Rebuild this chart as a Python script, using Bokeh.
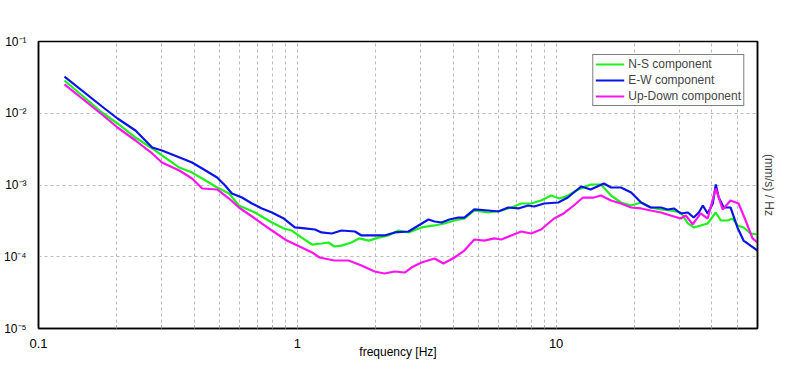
from bokeh.plotting import figure
from bokeh.models import Range1d, FixedTicker, CustomJSTickFormatter, LogAxis
from bokeh.embed import file_html
from bokeh.resources import INLINE

# ---- data ----
ew_freq = [0.126, 0.176, 0.202, 0.237, 0.275, 0.300, 0.359, 0.392, 0.429, 0.490, 0.526, 0.559,
           0.611, 0.668, 0.730, 0.798, 0.887, 0.978, 1.07, 1.17, 1.24, 1.36, 1.48, 1.67, 1.77,
           1.94, 2.17, 2.38, 2.69, 2.94, 3.21, 3.39, 3.61, 3.87, 4.19, 4.42, 4.83, 5.47, 5.98,
           6.53, 7.14, 7.80, 8.23, 8.99, 10.2, 11.1, 11.7, 12.5, 13.6, 15.3, 16.3, 17.8, 19.5,
           21.3, 23.2, 25.4, 27.0, 28.5, 30.3, 32.3, 34.0, 35.6, 36.9, 38.5, 40.3, 41.4, 42.5,
           44.4, 47.2, 50.2, 53.0, 56.4, 60.0]
ew_vals = [0.0325, 0.01242, 0.00845, 0.00575, 0.00333, 0.00303, 0.00234, 0.00206, 0.00170,
           0.00127, 0.000984, 0.000761, 0.000669, 0.000552, 0.000471, 0.000414, 0.000341,
           0.000256, 0.000248, 0.000240, 0.000218, 0.000211, 0.000232, 0.000225, 0.000198,
           0.000198, 0.000198, 0.000218, 0.000225, 0.000273, 0.000330, 0.000310, 0.000300,
           0.000330, 0.000352, 0.000352, 0.000456, 0.000441, 0.000427, 0.000486, 0.000471,
           0.000518, 0.000502, 0.000552, 0.000570, 0.000669, 0.000786, 0.000953, 0.000866,
           0.00105, 0.000923, 0.000923, 0.000786, 0.000570, 0.000486, 0.000486, 0.000456,
           0.000471, 0.000401, 0.000414, 0.000352, 0.000414, 0.000518, 0.000401, 0.000552,
           0.001016, 0.000669, 0.000486, 0.000486, 0.000256, 0.000168, 0.000143, 0.000122]

ns_freq = [0.126, 0.176, 0.202, 0.237, 0.275, 0.300, 0.350, 0.392, 0.429, 0.490, 0.545, 0.595,
           0.686, 0.798, 0.887, 0.952, 1.04, 1.14, 1.24, 1.32, 1.39, 1.48, 1.62, 1.73, 1.89,
           2.06, 2.25, 2.46, 2.69, 3.02, 3.39, 3.70, 4.05, 4.42, 4.83, 5.47, 6.14, 6.71, 7.33,
           8.01, 8.75, 9.56, 10.3, 11.1, 12.2, 13.6, 14.9, 16.3, 17.8, 19.5, 21.3, 23.2, 25.4,
           27.7, 30.3, 32.3, 34.0, 36.2, 38.5, 41.4, 43.3, 46.0, 48.1, 50.2, 53.0, 56.4, 60.0]
ns_vals = [0.0286, 0.01024, 0.00720, 0.00459, 0.00323, 0.00258, 0.00175, 0.00149, 0.00123,
           0.000923, 0.000761, 0.000518, 0.000414, 0.000300, 0.000248, 0.000232, 0.000185,
           0.000148, 0.000153, 0.000158, 0.000139, 0.000143, 0.000158, 0.000180, 0.000168,
           0.000185, 0.000198, 0.000232, 0.000218, 0.000256, 0.000273, 0.000291, 0.000320,
           0.000341, 0.000441, 0.000414, 0.000441, 0.000486, 0.000552, 0.000552, 0.000608,
           0.000714, 0.000648, 0.000714, 0.000866, 0.001016, 0.001016, 0.000714, 0.000570,
           0.000518, 0.000570, 0.000486, 0.000456, 0.000441, 0.000414, 0.000291, 0.000256,
           0.000273, 0.000291, 0.000414, 0.000320, 0.000320, 0.000341, 0.000273, 0.000256,
           0.000211, 0.000204]

ud_freq = [0.126, 0.176, 0.202, 0.237, 0.275, 0.300, 0.350, 0.392, 0.429, 0.490, 0.545, 0.595,
           0.686, 0.798, 0.911, 1.04, 1.14, 1.22, 1.39, 1.58, 1.77, 1.99, 2.17, 2.38, 2.60,
           2.76, 3.02, 3.39, 3.67, 4.05, 4.42, 4.83, 5.28, 5.77, 6.14, 6.71, 7.33, 8.01, 8.75,
           9.82, 10.7, 11.7, 12.7, 14.0, 14.9, 16.3, 17.8, 19.5, 21.3, 23.2, 25.4, 27.7, 30.3,
           31.7, 33.7, 36.2, 38.5, 41.4, 44.0, 47.2, 50.7, 54.0, 57.4, 60.0]
ud_vals = [0.0252, 0.00961, 0.00633, 0.00417, 0.00275, 0.00206, 0.00159, 0.00123, 0.000894,
           0.000866, 0.000648, 0.000486, 0.000341, 0.000232, 0.000168, 0.000135, 0.000115,
           0.0000976, 0.0000887, 0.0000887, 0.0000755, 0.0000623, 0.0000584, 0.0000623,
           0.0000603, 0.0000708, 0.0000832, 0.0000945, 0.0000806, 0.0000976, 0.000122,
           0.000174, 0.000168, 0.000180, 0.000174, 0.000198, 0.000225, 0.000211, 0.000240,
           0.000341, 0.000401, 0.000518, 0.000669, 0.000669, 0.000714, 0.000608, 0.000552,
           0.000486, 0.000471, 0.000441, 0.000414, 0.000376, 0.000341, 0.000376, 0.000282,
           0.000401, 0.000341, 0.000894, 0.000456, 0.000608, 0.000552, 0.000320, 0.000180,
           0.000158]

x_major = [0.1, 1, 10]
x_minor = [0.2, 0.3, 0.4, 0.5, 0.6, 0.7, 0.8, 0.9, 2, 3, 4, 5, 6, 7, 8, 9, 20, 30, 40, 50]
y_major = [1e-5, 1e-4, 1e-3, 1e-2, 1e-1]

series = [
    ("N-S component", ns_freq, ns_vals, "#1ef01e"),
    ("E-W component", ew_freq, ew_vals, "#0a14e6"),
    ("Up-Down component", ud_freq, ud_vals, "#ff14f0"),
]

FONT = "Liberation Sans"

p = figure(width=796, height=370, x_axis_type="log", y_axis_type="log",
           x_range=Range1d(0.1, 60), y_range=Range1d(1e-5, 1e-1),
           output_backend="svg", toolbar_location=None,
           min_border_left=33, min_border_right=39, min_border_top=41, min_border_bottom=42)
p.background_fill_color = "white"
p.border_fill_color = "white"
p.outline_line_color = "black"
p.outline_line_width = 1.5

for name, fx, fy, col in series:
    p.line(fx, fy, line_color=col, line_width=2.2, legend_label=name)

xt = FixedTicker(ticks=x_major, minor_ticks=x_minor)
yt = FixedTicker(ticks=y_major, minor_ticks=[])
p.xaxis.ticker = xt
p.xgrid.ticker = xt
p.yaxis.ticker = yt
p.ygrid.ticker = yt

p.xaxis.formatter = CustomJSTickFormatter(code="return tick >= 1 ? tick.toFixed(0) : tick.toFixed(1);")
p.yaxis.formatter = CustomJSTickFormatter(code="""
const e = Math.round(Math.log10(tick));
const sup = {'-':'\u207b','0':'\u2070','1':'\u00b9','2':'\u00b2','3':'\u00b3','4':'\u2074','5':'\u2075'};
return '10' + String(e).split('').map(c => sup[c]).join('');
""")

for g in (p.xgrid, p.ygrid):
    g.grid_line_color = "#bbbbbb"
    g.grid_line_dash = "3 3"
    g.grid_line_width = 1
p.xgrid.minor_grid_line_color = "#bbbbbb"
p.xgrid.minor_grid_line_dash = "3 3"

for ax in (p.xaxis, p.yaxis):
    ax.axis_line_color = "black"
    ax.axis_line_width = 1.5
    ax.major_label_text_font = FONT
    ax.major_label_text_font_size = "13px"
    ax.major_label_text_color = "black"
    ax.axis_label_text_font = FONT
    ax.axis_label_text_font_size = "12px"
    ax.axis_label_text_font_style = "normal"
    ax.axis_label_text_color = "black"

p.yaxis.major_label_text_font_size = "12px"

p.xaxis.major_tick_in = 3
p.xaxis.major_tick_out = 0
p.xaxis.minor_tick_in = 3
p.xaxis.minor_tick_out = 0
p.xaxis.major_tick_line_color = "#999999"
p.xaxis.minor_tick_line_color = "#999999"
p.xaxis.major_label_standoff = 10
p.xaxis.axis_label = "frequency [Hz]"
p.xaxis.axis_label_standoff = -6

p.yaxis.major_tick_line_color = None
p.yaxis.minor_tick_line_color = None
p.yaxis.major_label_standoff = 6

right = LogAxis(axis_label="(mm/s) / Hz", ticker=FixedTicker(ticks=[]),
                major_tick_line_color=None, minor_tick_line_color=None,
                major_label_text_font_size="0px", axis_line_color="black", axis_line_width=1.5,
                axis_label_text_font=FONT, axis_label_text_font_size="12px",
                axis_label_text_font_style="normal", axis_label_standoff=4)
p.add_layout(right, "right")

lg = p.legend[0]
lg.location = "top_right"
lg.margin = 13
lg.border_line_color = "black"
lg.border_line_width = 1
lg.background_fill_color = "white"
lg.background_fill_alpha = 1
lg.label_text_font = FONT
lg.label_text_font_size = "12px"
lg.label_height = 12
lg.glyph_height = 12
lg.glyph_width = 29
lg.label_standoff = 4
lg.spacing = 2
lg.padding = 2

open("out.html", "w").write(file_html(p, INLINE))
